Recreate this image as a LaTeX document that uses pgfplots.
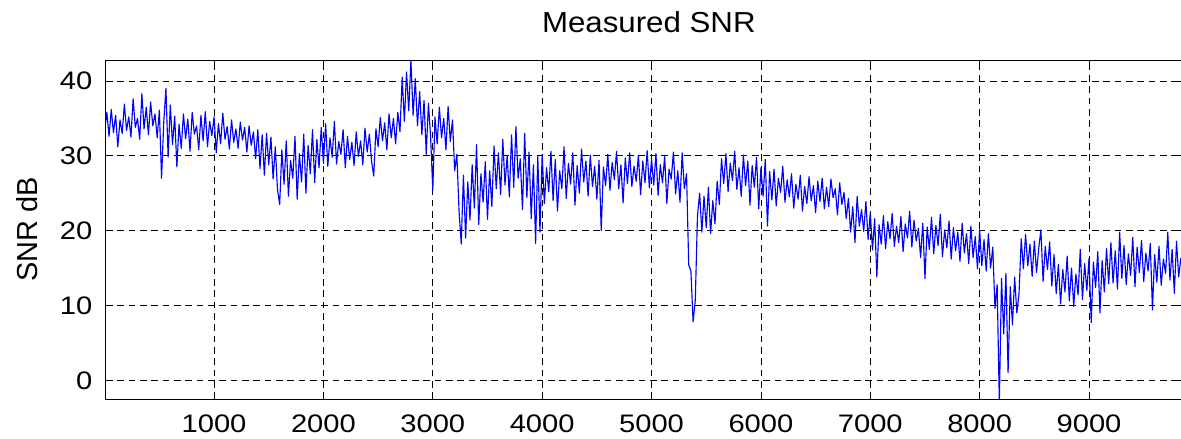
\documentclass[border=0pt]{standalone}
\usepackage{fontspec}
\setmainfont{Liberation Sans}
\newfontfamily\tickfont[FakeStretch=1.15]{Liberation Sans}
\newfontfamily\titlefont[FakeStretch=1.08]{Liberation Sans}
\usepackage{pgfplots}
\pgfplotsset{compat=1.18}
\begin{document}
\begin{tikzpicture}
\begin{axis}[name=ax,
  scale only axis, width=806.25pt, height=254.25pt,
  xmin=12, xmax=9841, ymin=-2.5, ymax=42.8,
  xtick={1000,2000,...,9000}, ytick={0,10,20,30,40},
  grid=major,
  major grid style={black, line width=0.5pt, dash pattern=on 5pt off 3.5pt},
  axis line style={black, line width=0.75pt},
  tick align=inside, major tick length=5pt,
  tick style={black, line width=0.6pt},
  /pgf/number format/assume math mode=true,
  /pgf/number format/set thousands separator={},
  ticklabel style={font=\tickfont\fontsize{19}{22}\selectfont},
  yticklabel style={anchor=east, inner sep=0pt, xshift=-10pt},
  xticklabel style={anchor=north, inner sep=0pt, yshift=-12pt},
  every axis title/.style={at={(0.5,1)}, anchor=base, yshift=20.8pt, xshift=4pt, font=\titlefont\fontsize{21.7}{24}\selectfont},
  every axis y label/.style={at={(axis description cs:0,0.5)}, xshift=-51.5pt, rotate=90, anchor=base, font=\fontsize{21.7}{24}\selectfont},
  title={Measured SNR}, ylabel={SNR dB},
]
\addplot[blue, line width=0.85pt, line join=round] coordinates {
(0,33.5)(20,35.8)(40,32.6)(60,36.2)(80,33.1)(100,35.4)(120,31.2)(140,34.8)(160,33.0)(180,36.9)(200,33.4)(220,35.2)(240,32.5)(260,37.6)(280,33.8)(300,35.0)(320,32.2)(340,38.3)(360,33.6)(380,36.5)(400,32.8)(420,37.2)(440,34.0)(460,35.6)(480,32.4)
(500,36.1)(520,27.0)(540,34.5)(560,39.0)(580,29.8)(600,36.8)(620,31.5)(640,35.3)(660,28.5)(680,34.2)(700,31.0)(720,35.6)(740,32.3)(760,34.9)(780,30.6)(800,35.8)(820,32.9)(840,34.0)(860,30.8)(880,35.4)(900,32.0)(920,35.9)(940,31.2)(960,34.6)(980,32.7)
(1000,35.2)(1020,30.4)(1040,34.3)(1060,31.6)(1080,35.7)(1100,32.2)(1120,33.9)(1140,30.9)(1160,34.8)(1180,31.8)(1200,33.6)(1220,31.0)(1240,34.5)(1260,32.1)(1280,33.8)(1300,30.5)(1320,34.0)(1340,31.4)(1360,33.2)(1380,29.6)(1400,33.5)(1420,28.3)(1440,32.8)(1460,27.4)(1480,33.0)
(1500,28.8)(1520,32.5)(1540,26.9)(1560,31.2)(1580,25.5)(1600,23.5)(1620,30.8)(1640,26.2)(1660,32.0)(1680,24.6)(1700,29.4)(1720,27.0)(1740,32.6)(1760,24.2)(1780,30.3)(1800,26.5)(1820,32.9)(1840,25.0)(1860,31.4)(1880,27.6)(1900,33.5)(1920,26.4)(1940,32.2)(1960,28.4)(1980,33.8)
(2000,29.0)(2020,34.3)(2040,28.6)(2060,32.4)(2080,29.8)(2100,34.6)(2120,28.9)(2140,31.9)(2160,30.2)(2180,33.5)(2200,28.4)(2220,32.6)(2240,29.5)(2260,31.8)(2280,28.7)(2300,33.2)(2320,29.9)(2340,32.0)(2360,28.8)(2380,33.7)(2400,30.5)(2420,32.9)(2440,29.3)(2460,27.3)(2480,33.6)
(2500,31.2)(2520,35.1)(2540,32.0)(2560,34.4)(2580,30.8)(2600,35.6)(2620,32.4)(2640,35.0)(2660,31.6)(2680,35.8)(2700,33.2)(2720,40.5)(2740,34.6)(2760,41.2)(2780,36.0)(2800,42.8)(2820,35.4)(2840,40.3)(2860,34.0)(2880,38.6)(2900,32.8)(2920,37.4)(2940,30.2)(2960,37.0)(2980,32.5)
(3000,25.4)(3020,35.2)(3040,31.6)(3060,36.5)(3080,32.4)(3100,35.0)(3120,30.8)(3140,36.6)(3160,31.9)(3180,34.8)(3200,28.0)(3220,30.2)(3240,22.6)(3260,18.2)(3280,27.4)(3300,19.0)(3320,26.5)(3340,21.4)(3360,28.8)(3380,23.0)(3400,31.5)(3420,20.8)(3440,27.6)(3460,23.8)(3480,29.2)
(3500,21.5)(3520,28.0)(3540,23.2)(3560,31.3)(3580,25.6)(3600,30.4)(3620,24.8)(3640,32.2)(3660,26.1)(3680,30.0)(3700,24.5)(3720,32.8)(3740,25.8)(3760,33.9)(3780,27.0)(3800,29.6)(3820,22.8)(3840,33.0)(3860,24.4)(3880,30.5)(3900,21.6)(3920,28.8)(3940,18.3)(3960,29.9)(3980,19.8)
(4000,30.2)(4020,23.6)(4040,28.4)(4060,25.2)(4080,30.6)(4100,24.0)(4120,29.5)(4140,22.6)(4160,28.0)(4180,25.6)(4200,31.2)(4220,24.3)(4240,29.0)(4260,26.2)(4280,30.4)(4300,23.4)(4320,28.7)(4340,25.0)(4360,30.9)(4380,26.5)(4400,29.3)(4420,24.6)(4440,30.1)(4460,25.9)(4480,28.6)
(4500,24.2)(4520,29.4)(4540,20.0)(4560,28.5)(4580,26.0)(4600,30.2)(4620,25.4)(4640,29.1)(4660,26.8)(4680,30.6)(4700,25.6)(4720,28.8)(4740,23.7)(4760,29.7)(4780,26.3)(4800,30.4)(4820,25.9)(4840,28.6)(4860,26.6)(4880,30.1)(4900,24.8)(4920,29.3)(4940,26.4)(4960,30.7)(4980,25.7)
(5000,29.6)(5020,26.1)(5040,30.3)(5060,24.7)(5080,28.8)(5100,26.4)(5120,29.9)(5140,23.6)(5160,28.2)(5180,26.9)(5200,30.5)(5220,24.9)(5240,28.0)(5260,23.8)(5280,30.4)(5300,25.6)(5320,27.6)(5340,15.4)(5360,14.6)(5380,7.8)(5400,10.7)(5420,22.0)(5440,25.0)(5460,19.8)(5480,24.6)
(5500,20.4)(5520,25.8)(5540,19.6)(5560,24.0)(5580,20.9)(5600,26.6)(5620,23.5)(5640,29.6)(5660,26.3)(5680,30.3)(5700,25.2)(5720,29.0)(5740,26.7)(5760,30.6)(5780,25.5)(5800,28.4)(5820,24.6)(5840,30.1)(5860,26.0)(5880,29.3)(5900,23.4)(5920,28.7)(5940,25.8)(5960,29.8)(5980,22.9)
(6000,28.4)(6020,24.6)(6040,29.5)(6060,20.6)(6080,27.9)(6100,24.1)(6120,28.2)(6140,23.3)(6160,27.0)(6180,25.1)(6200,28.6)(6220,23.8)(6240,26.8)(6260,24.5)(6280,27.6)(6300,23.0)(6320,26.2)(6340,24.2)(6360,27.4)(6380,22.6)(6400,25.9)(6420,23.6)(6440,27.2)(6460,24.0)(6480,26.0)
(6500,22.4)(6520,26.6)(6540,23.9)(6560,27.0)(6580,22.9)(6600,25.8)(6620,23.2)(6640,26.9)(6660,24.4)(6680,25.6)(6700,22.1)(6720,26.4)(6740,23.5)(6760,25.1)(6780,21.6)(6800,24.3)(6820,19.8)(6840,23.2)(6860,18.4)(6880,24.6)(6900,20.6)(6920,22.8)(6940,19.9)(6960,23.9)(6980,18.8)
(7000,22.4)(7020,17.4)(7040,21.6)(7060,13.8)(7080,20.8)(7100,18.2)(7120,22.0)(7140,17.6)(7160,21.2)(7180,18.9)(7200,22.3)(7220,17.9)(7240,20.6)(7260,18.4)(7280,21.9)(7300,17.2)(7320,20.9)(7340,19.0)(7360,22.6)(7380,17.8)(7400,21.4)(7420,18.6)(7440,20.3)(7460,16.4)(7480,21.0)
(7500,13.6)(7520,20.5)(7540,17.5)(7560,21.8)(7580,16.9)(7600,20.7)(7620,18.0)(7640,22.2)(7660,16.5)(7680,20.1)(7700,17.7)(7720,21.3)(7740,16.2)(7760,20.4)(7780,17.3)(7800,19.8)(7820,15.9)(7840,21.0)(7860,17.0)(7880,19.6)(7900,15.6)(7920,20.6)(7940,16.4)(7960,19.2)(7980,14.9)
(8000,20.1)(8020,15.3)(8040,18.8)(8060,14.6)(8080,19.6)(8100,15.0)(8120,17.8)(8140,9.6)(8160,12.8)(8180,-3.0)(8200,13.6)(8220,6.2)(8240,14.3)(8260,1.0)(8280,12.5)(8300,7.4)(8320,13.8)(8340,9.0)(8360,11.6)(8380,18.9)(8400,14.9)(8420,19.5)(8440,15.3)(8460,18.2)(8480,13.9)
(8500,18.6)(8520,14.4)(8540,17.6)(8560,20.1)(8580,13.2)(8600,17.9)(8620,14.8)(8640,18.5)(8660,12.6)(8680,16.8)(8700,11.6)(8720,15.5)(8740,10.2)(8760,14.8)(8780,11.8)(8800,16.6)(8820,10.6)(8840,15.0)(8860,9.9)(8880,14.2)(8900,11.4)(8920,17.5)(8940,10.8)(8960,15.6)(8980,12.0)
(9000,16.3)(9020,7.7)(9040,15.8)(9060,12.4)(9080,17.2)(9100,9.0)(9120,16.0)(9140,11.8)(9160,17.6)(9180,12.9)(9200,18.4)(9220,13.0)(9240,17.3)(9260,12.2)(9280,19.8)(9300,13.6)(9320,18.0)(9340,12.8)(9360,16.9)(9380,14.0)(9400,19.1)(9420,12.5)(9440,17.8)(9460,14.4)(9480,18.7)
(9500,13.2)(9520,17.0)(9540,14.6)(9560,18.3)(9580,9.4)(9600,16.8)(9620,13.1)(9640,17.9)(9660,12.7)(9680,16.2)(9700,14.3)(9720,19.8)(9740,13.4)(9760,17.5)(9780,11.6)(9800,18.6)(9820,13.8)(9840,16.4)
};
\end{axis}
\pgfresetboundingbox
\path ([xshift=-79.5pt,yshift=-29.25pt]ax.south west) rectangle ([yshift=45pt]ax.north east);
\end{tikzpicture}
\end{document}
